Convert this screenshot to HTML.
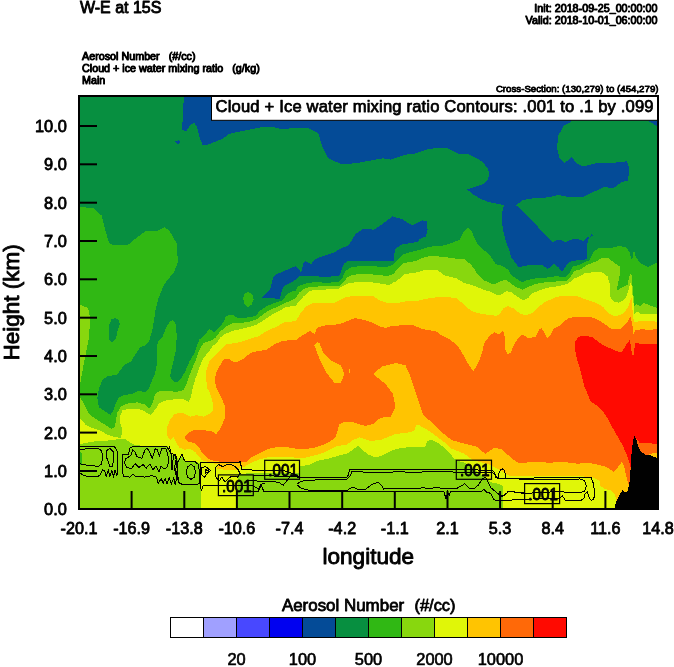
<!DOCTYPE html>
<html><head><meta charset="utf-8"><title>W-E at 15S</title>
<style>
html,body{margin:0;padding:0;background:#fff;}
body{width:674px;height:667px;overflow:hidden;}
svg{display:block;opacity:0.999;will-change:transform;font-family:"Liberation Sans",sans-serif;fill:#000;}
svg text{fill:#000;}
</style></head><body>
<svg width="674" height="667" viewBox="0 0 674 667">
<rect x="79" y="96" width="579" height="414" fill="#078f40"/>
<polygon points="184.0,96.0 183.0,110.4 182.2,130.2 186.2,131.0 190.7,124.8 194.3,123.0 197.0,126.6 199.7,137.4 202.4,144.6 206.0,145.5 213.2,142.4 222.2,139.2 229.4,133.8 241.9,131.1 250.9,129.3 263.5,126.9 272.5,126.9 281.5,129.3 290.0,128.4 308.3,128.0 318.3,133.0 322.0,146.0 328.3,158.3 342.0,164.5 358.2,162.8 383.0,158.3 390.6,159.6 405.5,154.6 414.0,153.8 429.0,148.8 440.0,148.0 447.2,148.0 454.4,151.6 459.8,154.3 468.8,154.3 476.0,157.9 483.2,162.4 487.7,168.7 489.5,174.1 487.7,179.5 483.2,184.0 476.0,186.7 467.0,189.4 472.4,193.9 479.6,198.4 488.6,202.0 497.6,203.8 503.9,205.2 502.0,212.7 502.0,223.5 503.9,234.3 506.6,243.3 509.3,250.0 510.8,256.5 515.0,262.5 518.9,267.3 527.0,265.5 536.0,264.6 543.2,265.5 547.7,269.1 554.0,263.7 558.5,267.3 562.0,271.8 567.4,263.7 572.0,261.0 587.2,259.2 587.2,244.0 589.0,237.7 591.7,234.1 593.5,235.9 591.0,236.5 588.1,236.5 583.7,241.3 579.2,239.5 573.8,238.6 565.7,242.2 562.0,240.4 557.6,239.5 552.2,242.2 546.8,236.8 539.6,229.6 536.0,224.2 530.6,218.8 523.4,211.6 516.2,205.3 522.7,200.1 533.5,198.3 547.9,197.4 558.3,195.0 568.3,197.0 583.3,197.0 593.2,192.0 604.5,187.0 613.2,188.2 621.9,182.0 628.0,180.7 629.4,168.3 626.9,161.3 613.2,162.8 598.2,162.8 583.3,166.5 577.0,163.3 571.3,157.0 564.6,163.3 559.6,158.3 557.0,148.3 558.3,135.9 563.3,126.0 570.8,122.2 571.0,96.0" fill="#044b97" shape-rendering="crispEdges"/>
<polygon points="648.0,121.0 658.0,126.5 658.0,121.0" fill="#044b97" shape-rendering="crispEdges"/>
<polygon points="175.5,141.5 179.0,140.0 180.0,142.5 177.0,144.5" fill="#044b97" shape-rendering="crispEdges"/>
<polygon points="262.0,298.0 266.5,292.7 270.2,289.0 271.7,283.0 273.5,277.5 275.4,274.7 285.2,270.5 295.1,266.3 296.0,266.5 299.0,269.5 301.2,272.5 303.5,262.7 305.7,261.2 311.0,264.2 315.5,259.0 323.0,256.0 335.0,252.2 338.0,250.0 348.7,245.1 355.7,233.8 362.8,229.0 374.0,229.6 382.5,224.0 392.4,216.4 402.2,219.2 412.1,225.4 422.0,220.3 427.0,221.1 427.6,230.0 425.6,236.5 419.7,238.9 418.5,241.5 411.0,243.0 402.0,244.5 396.0,248.2 394.7,251.4 393.8,260.6 380.0,260.5 363.5,260.5 347.7,261.2 344.0,263.5 341.7,269.5 339.5,275.5 326.0,277.0 314.0,276.2 299.0,276.2 296.0,279.5 289.0,283.7 283.7,286.0 281.5,292.0 280.0,298.7" fill="#044b97" shape-rendering="crispEdges"/>
<polygon points="79.0,207.0 93.0,208.0 101.7,215.6 105.4,230.6 109.0,243.0 114.0,245.5 128.0,244.8 137.8,236.8 145.3,231.3 157.8,230.6 164.7,226.9 170.0,231.8 176.5,243.0 178.0,262.0 174.0,272.0 164.0,284.4 159.0,296.9 158.0,300.0 155.7,309.0 154.2,319.5 152.0,331.5 149.0,341.2 146.0,345.0 140.0,347.2 136.2,353.2 131.0,361.5 124.2,365.2 119.0,372.0 116.0,375.0 110.0,375.7 106.7,376.7 102.5,380.0 98.8,388.9 97.3,397.8 98.8,407.4 104.7,411.2 110.6,414.9 112.9,411.2 115.1,405.2 118.8,397.8 123.5,395.2 132.5,393.7 138.5,390.7 144.5,392.2 148.2,390.0 150.5,384.0 155.0,373.5 157.2,363.0 157.2,345.0 158.7,340.5 162.5,336.7 166.2,327.7 170.0,321.0 173.0,320.0 176.0,324.7 176.7,336.0 176.0,349.5 173.0,363.0 170.0,375.7 172.2,380.2 176.0,382.5 180.5,379.5 185.0,372.0 189.5,361.5 194.0,354.0 196.5,347.0 199.5,339.5 205.0,335.0 209.5,328.7 214.0,332.5 220.0,326.5 223.7,322.0 226.0,316.0 232.0,314.5 237.2,317.5 247.0,317.5 256.0,316.0 259.0,311.5 266.5,306.2 274.0,303.2 283.0,300.2 286.0,295.0 290.5,292.0 296.0,290.5 298.2,286.0 305.0,283.7 314.0,282.2 326.0,282.7 338.0,282.2 342.5,277.7 345.5,271.0 351.5,267.2 363.5,265.7 377.0,266.5 386.0,267.2 392.0,265.0 396.0,261.7 399.0,258.0 403.5,254.2 411.0,252.0 420.0,249.7 429.0,246.7 441.0,246.0 450.0,243.7 459.8,239.7 463.4,232.5 467.9,227.1 471.5,230.7 475.1,239.7 477.7,244.5 484.5,250.5 490.5,256.5 496.0,264.2 502.0,265.7 508.0,269.5 511.0,274.7 517.0,279.2 522.2,282.2 527.5,280.0 535.0,278.5 545.5,277.7 556.0,276.2 565.0,277.0 569.5,272.5 572.5,266.5 578.5,265.0 583.6,262.5 589.9,260.0 593.0,252.4 598.7,248.0 611.3,248.0 620.0,245.9 625.7,247.4 629.5,251.8 632.0,261.3 633.7,251.2 634.2,250.6 635.8,257.5 641.5,263.8 647.8,266.9 651.6,265.0 658.0,261.9 658.0,509.0 79.0,509.0" fill="#30b814" shape-rendering="crispEdges"/>
<polygon points="247.7,292.0 252.2,294.2 253.7,299.5 251.5,304.7 247.7,307.7 244.0,304.0 243.2,298.0 244.7,293.5" fill="#30b814" shape-rendering="crispEdges"/>
<polygon points="111.5,319.5 115.2,318.0 119.0,320.2 119.7,324.0 117.5,331.5 116.0,338.2 112.2,342.7 109.5,340.5 108.8,333.0 109.5,324.0" fill="#078f40" shape-rendering="crispEdges"/>
<polygon points="79.0,305.6 80.5,305.0 88.0,308.0 90.0,316.8 89.2,336.8 84.2,361.7 80.5,381.6 79.0,385.0" fill="#88d70e" shape-rendering="crispEdges"/>
<polygon points="79.0,395.6 83.9,403.7 89.1,414.1 97.3,420.0 104.7,424.5 111.4,429.0 114.4,427.5 115.8,421.5 117.3,412.6 121.0,406.7 127.0,403.7 137.3,402.3 144.8,404.5 149.2,408.2 152.2,404.5 153.5,400.0 155.0,394.5 159.5,390.7 170.0,390.7 176.0,392.2 183.5,390.0 186.5,384.0 189.5,375.0 193.2,366.0 196.0,359.5 199.0,350.5 203.5,343.0 211.0,340.7 215.5,337.7 220.0,331.7 226.0,326.5 232.0,323.5 247.0,322.3 256.0,319.7 262.0,315.2 269.5,310.0 277.0,307.0 286.0,302.5 292.0,300.2 296.0,298.0 299.0,292.7 305.0,288.2 311.0,286.7 326.0,286.3 339.5,285.7 344.0,281.5 347.7,277.0 353.0,274.7 363.5,274.0 377.0,274.7 387.5,276.2 393.5,274.0 396.0,270.7 399.0,267.0 403.5,263.2 415.5,261.0 424.5,257.2 432.0,255.7 445.5,257.2 456.0,258.7 465.0,259.5 471.0,264.7 474.0,268.5 477.7,274.5 484.5,280.5 490.5,283.5 496.0,283.7 502.0,280.7 506.5,280.0 511.0,283.7 517.0,287.5 523.0,289.7 529.0,286.7 536.5,283.7 545.5,282.2 556.0,281.5 566.5,280.7 571.0,276.2 574.0,271.0 580.0,269.5 586.0,265.5 594.9,261.9 602.4,258.0 608.7,258.5 613.8,262.5 619.5,266.3 619.5,276.4 616.3,291.5 620.0,288.3 627.6,284.6 629.9,273.9 631.4,273.2 632.0,281.4 634.0,300.3 634.1,306.0 636.6,304.1 640.2,306.0 643.9,302.9 650.1,305.4 658.0,308.4 658.0,509.0 79.0,509.0" fill="#88d70e" shape-rendering="crispEdges"/>
<polygon points="79.0,451.5 82.0,453.0 82.5,458.0 81.5,465.0 79.0,466.0" fill="#30b814" shape-rendering="crispEdges"/>
<polygon points="79.0,417.1 85.4,424.5 92.8,428.2 100.3,430.4 107.7,434.9 115.1,437.1 121.0,437.9 122.5,430.4 120.3,423.0 120.3,415.6 122.5,410.4 128.4,408.9 137.3,408.9 143.3,410.4 147.8,413.4 150.7,414.9 155.2,409.7 158.9,403.7 164.0,400.8 173.0,399.5 182.5,398.7 188.5,401.7 190.7,398.0 192.3,389.5 195.3,379.0 200.0,366.0 203.0,358.5 207.5,353.2 210.0,350.2 212.5,346.0 217.0,343.0 220.0,337.7 225.2,334.0 232.0,331.0 245.5,328.0 256.0,325.0 263.5,320.5 271.0,315.2 278.5,311.5 284.5,307.7 292.0,306.2 295.0,306.0 297.0,304.0 298.2,302.5 303.5,296.5 309.5,291.2 315.5,289.7 338.0,289.3 342.5,286.0 348.5,283.3 359.0,281.8 371.0,282.2 381.5,283.7 389.0,285.2 393.5,282.2 396.0,281.5 399.0,279.0 403.5,274.5 411.0,273.0 418.5,272.2 424.5,270.0 438.0,270.4 444.0,275.2 456.0,278.2 463.5,282.7 474.0,285.7 483.0,289.5 490.5,291.7 496.0,294.5 500.5,295.0 506.5,291.2 511.0,292.0 517.0,296.5 523.0,300.2 528.2,298.0 532.0,293.5 541.0,289.7 548.5,287.5 559.0,286.0 568.0,283.7 574.0,278.5 581.5,275.5 584.8,273.2 594.9,272.0 603.0,272.6 607.5,276.4 610.0,285.2 610.0,296.5 613.8,301.6 618.8,302.8 625.0,299.0 628.3,291.5 630.2,282.7 631.4,284.0 632.7,296.5 634.0,306.6 634.1,314.0 637.8,311.5 640.2,314.0 658.0,314.0 658.0,509.0 503.5,509.0 503.3,486.0 498.8,483.8 491.4,482.3 487.0,479.3 482.5,475.6 470.0,466.0 463.9,462.3 457.2,460.8 453.6,458.0 450.0,453.6 444.6,448.2 439.2,443.7 432.0,439.7 427.5,441.0 424.8,447.3 406.8,447.3 396.0,449.0 388.0,452.3 380.6,456.3 374.7,457.0 368.8,454.8 362.8,450.4 358.4,445.5 353.9,448.9 348.0,453.4 341.1,454.8 329.2,458.5 317.3,460.8 309.9,464.5 299.5,466.7 299.5,473.0 264.7,473.0 246.0,473.5 237.7,474.0 237.7,509.0 200.6,509.0 200.9,484.5 199.9,463.7 196.2,461.5 187.3,462.3 184.7,460.2 182.5,455.5 179.5,459.5 175.0,456.5 170.5,453.0 167.5,446.5 144.8,446.0 134.4,445.0 130.0,442.5 125.5,439.3 121.0,438.6 112.1,440.1 104.7,440.8 92.8,441.6 85.4,443.0 79.0,444.5" fill="#e0f608" shape-rendering="crispEdges"/>
<polygon points="166.7,435.5 166.7,428.0 170.5,419.0 175.0,413.7 182.5,413.0 190.0,416.7 196.0,415.2 203.5,416.7 209.5,413.7 213.2,410.0 213.2,404.0 211.0,396.5 210.0,393.0 207.5,388.5 206.0,378.0 206.5,370.0 209.5,361.0 215.5,355.0 221.5,349.0 226.0,344.5 239.5,342.2 248.5,339.2 259.0,336.2 266.5,331.0 277.0,326.5 283.0,322.7 296.0,321.0 300.5,313.0 306.5,306.2 312.5,303.2 323.0,302.5 335.0,302.5 341.0,299.5 347.0,296.8 359.0,295.7 374.0,296.2 378.5,300.2 386.0,302.5 396.0,303.2 405.0,301.5 418.5,300.7 427.5,298.5 438.0,297.0 456.0,297.7 460.5,301.5 466.5,307.5 474.0,312.0 483.0,314.2 496.0,315.8 499.0,314.5 503.5,308.5 508.0,306.2 514.0,308.5 520.0,313.7 526.0,315.2 532.0,313.0 538.0,307.0 545.5,301.7 556.0,297.2 563.5,295.7 577.0,296.2 586.0,299.5 596.0,302.7 603.4,307.2 608.3,313.4 614.4,316.4 623.0,314.0 628.0,307.2 630.4,299.8 631.6,297.4 632.9,314.6 634.1,322.6 639.0,321.3 648.9,320.7 658.0,322.0 658.0,509.0 615.0,509.0 616.2,500.0 614.8,494.5 610.7,490.3 605.2,489.0 600.3,486.2 599.7,480.7 592.0,477.1 583.1,476.4 559.3,476.4 529.7,475.6 508.9,475.6 501.2,471.0 491.3,465.3 472.6,459.8 463.9,453.6 451.4,448.6 446.4,443.7 439.2,438.3 432.0,432.9 424.8,428.4 418.5,424.8 415.8,425.7 414.0,431.0 406.8,432.9 396.0,433.8 380.6,439.9 370.6,441.0 359.4,437.4 353.0,440.0 347.0,444.5 338.1,446.0 336.0,446.5 329.0,450.2 320.0,454.0 311.0,456.2 302.0,458.5 296.0,457.7 285.5,456.7 273.5,456.7 266.0,457.7 260.0,459.2 254.0,461.5 248.0,464.5 243.7,467.0 240.7,466.0 238.0,470.0 228.0,470.5 217.0,468.5 218.4,464.5 209.5,462.3 202.0,460.2 199.0,456.5 195.2,452.0 190.0,449.0 184.0,449.7 179.5,447.5 176.5,443.0 173.5,437.0 170.5,440.0" fill="#ffc400" shape-rendering="crispEdges"/>
<polygon points="184.7,437.7 187.0,434.0 194.5,429.5 203.5,430.2 211.0,431.0 216.2,434.0 220.0,429.5 224.5,419.0 225.2,407.0 221.5,398.0 216.2,387.5 214.7,380.0 216.2,373.0 220.0,365.5 223.7,359.5 228.2,358.7 235.0,362.5 242.5,359.5 247.7,355.0 253.0,352.0 266.5,349.7 274.0,344.5 283.0,340.7 296.0,340.0 302.0,335.5 310.2,331.0 314.7,334.0 317.0,328.0 323.0,325.7 339.5,324.2 347.0,321.2 354.5,318.2 360.5,319.0 371.0,322.0 380.0,326.5 386.0,328.0 392.0,325.7 396.0,326.0 402.0,325.0 414.0,325.5 423.0,329.2 436.5,331.5 440.0,334.4 449.0,338.9 458.0,346.0 463.4,355.0 468.8,365.0 473.3,371.3 477.8,364.0 482.3,352.4 484.0,343.4 489.5,336.2 494.0,332.2 499.4,334.4 503.0,330.8 504.7,336.2 504.7,348.8 507.4,354.2 511.0,352.4 513.7,345.2 518.2,338.0 522.7,334.4 528.1,338.0 535.3,337.1 538.9,329.9 541.6,328.1 544.3,332.6 547.0,338.0 550.6,335.3 553.3,329.0 560.0,325.5 568.0,318.2 577.0,316.7 589.0,316.7 596.0,318.7 603.4,323.2 612.0,329.3 620.6,329.3 626.7,323.2 630.4,316.4 632.3,324.4 633.5,334.2 635.3,329.9 642.7,329.3 650.1,329.9 658.0,328.7 658.0,452.7 650.0,453.8 645.0,458.0 630.0,487.0 627.9,482.1 626.1,475.2 623.8,465.5 621.7,462.1 617.6,467.6 613.4,471.7 606.6,466.9 598.3,464.8 589.0,463.0 577.2,463.7 566.8,462.3 559.3,461.5 550.4,463.0 538.6,461.5 529.7,462.3 518.7,463.0 513.7,460.0 507.7,454.8 501.8,449.6 495.1,447.4 490.0,450.4 485.5,454.1 476.6,446.7 464.7,443.7 451.4,440.0 439.0,430.0 429.0,420.0 422.7,414.0 417.7,399.0 414.0,387.9 410.5,376.7 405.5,365.4 395.5,363.0 381.8,366.7 373.0,374.0 385.6,384.0 393.0,394.0 395.5,406.6 390.6,416.5 380.6,417.8 373.0,424.0 365.6,426.0 353.2,422.4 345.7,421.5 339.5,424.0 337.0,432.4 336.0,436.0 333.5,439.0 329.0,442.0 323.0,445.0 314.0,447.7 303.5,449.5 296.0,448.7 285.5,446.8 276.5,447.2 269.0,448.7 263.0,451.7 257.0,454.7 251.0,457.7 245.5,462.5 241.0,461.7 232.0,461.7 220.0,461.7 211.0,460.2 206.5,457.2 202.7,453.5 199.0,447.5 194.5,443.0 187.7,441.5" fill="#ff6908" shape-rendering="crispEdges"/>
<polygon points="317.0,341.8 314.5,345.5 319.5,359.2 325.8,371.7 334.5,383.0 340.7,383.0 344.5,374.0 340.7,365.4 330.7,360.5 323.3,353.0 319.5,343.0" fill="#ffc400" shape-rendering="crispEdges"/>
<polygon points="348.5,369.0 349.8,369.0 349.8,373.0 348.5,373.0" fill="#ffc400" shape-rendering="crispEdges"/>
<polygon points="575.5,341.5 578.5,337.0 583.0,335.5 592.0,337.0 596.0,340.0 598.2,341.8 604.6,345.9 614.4,350.2 621.2,352.7 626.7,344.1 629.8,339.8 631.6,351.5 633.2,357.0 635.3,342.9 642.7,344.1 648.9,343.5 658.0,344.1 658.0,444.1 645.2,442.8 639.7,442.8 636.9,439.3 634.0,436.0 631.0,470.0 630.0,464.1 627.2,455.9 623.1,446.2 617.6,436.6 612.1,426.9 605.7,415.0 599.5,407.5 590.7,401.6 584.5,386.6 580.8,371.7 577.0,359.2 574.5,346.7" fill="#ff0a00" shape-rendering="crispEdges"/>
<polygon points="613.8,510.0 616.9,500.0 619.7,494.5 622.4,490.3 625.2,492.4 627.2,491.7 629.3,484.8 630.7,468.3 631.4,454.5 632.8,442.1 634.4,435.9 636.2,439.3 638.3,446.2 641.0,451.7 645.2,454.5 650.7,455.2 654.8,457.2 658.0,457.9 658.0,510.0" fill="#000" shape-rendering="crispEdges"/>
<polyline points="79.0,446.7 114.4,446.7 116.9,450.4 118.0,459.3 117.8,469.7 116.9,475.6 115.0,470.4 113.6,476.4 111.8,470.4 109.9,476.4 108.4,470.4 106.2,476.4 104.7,471.2 102.5,469.7 100.3,474.9 97.3,476.8 86.9,476.4 82.5,474.9 79.0,471.9" fill="none" stroke="#000" stroke-width="1" shape-rendering="crispEdges"/>
<polyline points="79.0,449.2 98.8,448.6 101.7,451.1 102.5,456.3 101.7,463.7 98.8,466.4 86.9,465.2 79.0,463.7" fill="none" stroke="#000" stroke-width="1" shape-rendering="crispEdges"/>
<polygon points="109.9,448.2 113.6,451.9 113.9,459.3 112.1,466.4 110.0,467.0 108.4,462.3 106.2,456.3 107.0,450.4" fill="none" stroke="#000" stroke-width="1" shape-rendering="crispEdges"/>
<polygon points="122.5,454.8 128.4,454.1 130.0,448.2 132.9,446.7 167.0,446.7 170.7,453.4 175.9,454.8 176.7,460.8 175.9,469.7 176.7,478.6 175.2,484.5 173.7,477.8 171.5,483.8 169.2,477.8 167.0,483.8 165.2,478.3 163.3,483.0 161.1,478.6 158.1,483.8 156.6,477.1 152.2,475.6 144.8,477.1 135.9,476.4 132.9,474.4 130.0,477.1 124.0,476.4 122.2,472.6" fill="none" stroke="#000" stroke-width="1" shape-rendering="crispEdges"/>
<polygon points="125.2,459.3 130.7,455.6 132.9,449.6 135.1,451.9 136.6,456.3 141.8,458.5 144.8,450.4 147.0,448.2 149.2,451.1 152.2,458.5 155.2,448.9 157.4,449.6 159.3,456.3 161.8,448.9 165.5,448.2 167.8,453.4 168.5,462.3 167.0,467.4 164.0,468.9 161.1,466.0 158.9,471.9 155.9,466.0 152.9,469.7 150.0,463.7 146.2,468.2 143.3,464.5 138.8,467.4 135.1,463.7 131.4,468.9 127.0,467.4 124.7,463.7" fill="none" stroke="#000" stroke-width="1" shape-rendering="crispEdges"/>
<polyline points="169.5,446.0 171.0,453.4 172.0,470.0 173.5,455.0 174.7,454.8 176.2,459.3 174.5,468.0 177.0,480.0 178.0,462.0" fill="none" stroke="#000" stroke-width="1" shape-rendering="crispEdges"/>
<polygon points="177.6,462.3 182.1,454.1 183.6,459.3 185.8,461.5 195.4,462.0 198.4,464.5 199.5,472.6 199.9,483.0 196.9,484.5 182.8,484.5 179.1,483.0 177.6,474.1" fill="none" stroke="#000" stroke-width="1" shape-rendering="crispEdges"/>
<polygon points="191.0,464.5 194.5,467.0 195.5,472.0 194.5,477.0 191.0,479.3 187.5,477.0 186.5,472.0 187.5,467.0" fill="none" stroke="#000" stroke-width="1" shape-rendering="crispEdges"/>
<polyline points="201.4,491.2 200.3,484.5 200.6,462.3 240.7,462.0 241.4,469.7 264.7,470.4" fill="none" stroke="#000" stroke-width="1" shape-rendering="crispEdges"/>
<polyline points="201.4,491.2 202.9,486.0 218.4,485.3" fill="none" stroke="#000" stroke-width="1" shape-rendering="crispEdges"/>
<polyline points="253.3,486.0 258.5,489.0 260.7,484.5 264.7,483.0" fill="none" stroke="#000" stroke-width="1" shape-rendering="crispEdges"/>
<polygon points="201.4,467.4 205.8,466.7 210.3,470.4 204.3,477.1 201.4,474.1" fill="none" stroke="#000" stroke-width="1" shape-rendering="crispEdges"/>
<polygon points="205.8,469.7 208.8,471.2 205.8,473.4" fill="none" stroke="#000" stroke-width="1" shape-rendering="crispEdges"/>
<polygon points="215.5,467.4 218.4,464.5 222.9,466.7 227.3,464.5 233.3,465.2 237.7,468.9 240.0,473.4 237.7,477.1 232.0,476.0 228.0,479.0 225.0,482.3 222.0,477.0 219.2,480.8 216.2,477.8 215.2,471.9" fill="none" stroke="#000" stroke-width="1" shape-rendering="crispEdges"/>
<polyline points="253.3,475.6 264.7,475.6" fill="none" stroke="#000" stroke-width="1" shape-rendering="crispEdges"/>
<polyline points="299.5,477.1 347.0,477.1 348.5,474.9 349.5,469.4 456.2,469.4" fill="none" stroke="#000" stroke-width="1" shape-rendering="crispEdges"/>
<polyline points="347.0,478.6 350.7,475.6 351.5,471.9 358.4,471.5 371.7,472.9 382.1,472.9 399.9,471.5 407.3,472.3 448.0,471.5 456.2,472.3" fill="none" stroke="#000" stroke-width="1" shape-rendering="crispEdges"/>
<polyline points="246.0,480.8 266.9,481.2 278.8,482.3 283.2,485.3 286.2,481.5 289.9,477.0" fill="none" stroke="#000" stroke-width="1" shape-rendering="crispEdges"/>
<polyline points="296.6,484.5 301.0,481.2 317.3,479.8 347.0,479.8" fill="none" stroke="#000" stroke-width="1" shape-rendering="crispEdges"/>
<polyline points="296.6,484.5 301.0,488.2 308.4,490.1 347.0,490.4 350.7,488.2 353.0,487.2 356.9,489.0 365.8,489.0 371.7,484.5 378.4,482.3 381.4,485.3 383.6,489.0 392.5,488.2 411.8,489.0 419.2,488.7 423.7,487.2 426.6,488.7 437.0,487.5 445.4,489.0 457.3,488.2 464.7,483.8 469.2,488.2 473.6,489.0 478.1,485.3 482.5,478.6 485.5,477.1 487.7,481.5 490.7,487.5 495.1,491.2 500.3,495.6 504.8,495.6 507.7,491.9 512.2,491.2 518.1,492.7 524.5,491.9" fill="none" stroke="#000" stroke-width="1" shape-rendering="crispEdges"/>
<polyline points="246.0,491.9 258.0,491.9 260.2,487.5 261.7,486.0 263.9,491.9 443.9,491.9 446.2,499.3 447.6,491.9 449.1,495.6 450.6,491.9 481.0,491.9 484.0,489.0 486.2,491.9 490.7,493.4 493.6,499.3 497.3,500.8 524.5,499.3" fill="none" stroke="#000" stroke-width="1" shape-rendering="crispEdges"/>
<polyline points="497.7,478.2 506.1,478.2" fill="none" stroke="#000" stroke-width="1" shape-rendering="crispEdges"/>
<polyline points="491.4,470.4 494.0,471.6 495.9,476.0 497.7,478.2 498.9,473.4 500.4,469.8 502.5,468.9 504.5,470.7 505.4,475.2 506.1,478.2 507.4,478.3 552.0,477.8 583.1,477.4 591.2,477.8 593.2,483.0 594.7,491.9 593.8,499.3 591.2,500.5 589.0,497.1 587.5,491.9 585.3,493.4 583.8,498.6 580.9,500.5 565.3,500.1 562.3,495.6 559.6,498.0" fill="none" stroke="#000" stroke-width="1" shape-rendering="crispEdges"/>
<polyline points="491.4,472.3 494.4,473.4 495.9,477.8 498.8,477.8" fill="none" stroke="#000" stroke-width="1" shape-rendering="crispEdges"/>
<polyline points="517.8,478.9 529.7,479.8 552.0,479.3 569.7,479.8 580.1,478.9 584.6,480.8 586.5,486.0 584.6,491.2 580.1,492.7 565.3,492.2 559.6,491.5" fill="none" stroke="#000" stroke-width="1" shape-rendering="crispEdges"/>
<polyline points="524.5,493.4 517.8,492.7 508.9,491.2 504.5,494.9 501.5,497.1" fill="none" stroke="#000" stroke-width="1" shape-rendering="crispEdges"/>
<polyline points="438.0,469.4 456.2,469.4" fill="none" stroke="#000" stroke-width="1" shape-rendering="crispEdges"/>
<polyline points="264.7,470.4 285.0,471.0 295.0,474.5 299.5,477.1" fill="none" stroke="#000" stroke-width="1" shape-rendering="crispEdges"/>
<polyline points="264.7,475.6 299.5,477.1" fill="none" stroke="#000" stroke-width="1" shape-rendering="crispEdges"/>
<polyline points="456.2,469.4 491.4,470.4" fill="none" stroke="#000" stroke-width="1" shape-rendering="crispEdges"/>
<polyline points="456.2,472.3 491.4,472.3" fill="none" stroke="#000" stroke-width="1" shape-rendering="crispEdges"/>
<polyline points="524.5,493.4 559.6,491.5" fill="none" stroke="#000" stroke-width="1" shape-rendering="crispEdges"/>
<polyline points="524.5,499.3 559.6,498.0" fill="none" stroke="#000" stroke-width="1" shape-rendering="crispEdges"/>
<polyline points="218.4,485.3 253.3,486.0" fill="none" stroke="#000" stroke-width="1" shape-rendering="crispEdges"/>
<rect x="218.4" y="474.9" width="34.9" height="20.7" fill="none" stroke="#000" stroke-width="1.2"/>
<text x="236.9" y="491.9" font-size="16.5" text-anchor="middle" stroke="#000" stroke-width="0.85" stroke-linejoin="round" textLength="29.6" lengthAdjust="spacingAndGlyphs">.001</text>
<rect x="264.7" y="460.3" width="34.8" height="19.0" fill="none" stroke="#000" stroke-width="1.2"/>
<text x="283.1" y="475.6" font-size="16.5" text-anchor="middle" stroke="#000" stroke-width="0.85" stroke-linejoin="round" textLength="29.6" lengthAdjust="spacingAndGlyphs">.001</text>
<rect x="456.3" y="460.2" width="35.2" height="19.1" fill="none" stroke="#000" stroke-width="1.2"/>
<text x="474.9" y="475.6" font-size="16.5" text-anchor="middle" stroke="#000" stroke-width="0.85" stroke-linejoin="round" textLength="29.6" lengthAdjust="spacingAndGlyphs">.001</text>
<rect x="524.6" y="483.6" width="35.0" height="20.0" fill="none" stroke="#000" stroke-width="1.2"/>
<text x="543.1" y="499.9" font-size="16.5" text-anchor="middle" stroke="#000" stroke-width="0.85" stroke-linejoin="round" textLength="29.6" lengthAdjust="spacingAndGlyphs">.001</text>
<g stroke="#000" stroke-width="2"><line x1="131.6" y1="509" x2="131.6" y2="491"/><line x1="184.3" y1="509" x2="184.3" y2="491"/><line x1="236.9" y1="509" x2="236.9" y2="491"/><line x1="289.5" y1="509" x2="289.5" y2="491"/><line x1="342.2" y1="509" x2="342.2" y2="491"/><line x1="394.8" y1="509" x2="394.8" y2="491"/><line x1="447.5" y1="509" x2="447.5" y2="491"/><line x1="500.1" y1="509" x2="500.1" y2="491"/><line x1="552.7" y1="509" x2="552.7" y2="491"/><line x1="605.4" y1="509" x2="605.4" y2="491"/><line x1="79" y1="471.0" x2="97" y2="471.0"/><line x1="79" y1="432.6" x2="97" y2="432.6"/><line x1="79" y1="394.3" x2="97" y2="394.3"/><line x1="79" y1="356.0" x2="97" y2="356.0"/><line x1="79" y1="317.7" x2="97" y2="317.7"/><line x1="79" y1="279.3" x2="97" y2="279.3"/><line x1="79" y1="241.0" x2="97" y2="241.0"/><line x1="79" y1="202.7" x2="97" y2="202.7"/><line x1="79" y1="164.3" x2="97" y2="164.3"/><line x1="79" y1="126.0" x2="97" y2="126.0"/></g>
<rect x="211.5" y="96" width="446.5" height="24.3" fill="#fff" stroke="#000" stroke-width="1"/>
<text x="215.6" y="112.4" font-size="16.6" stroke="#000" stroke-width="0.75" stroke-linejoin="round" textLength="438" lengthAdjust="spacing">Cloud + Ice water mixing ratio Contours: .001 to .1 by .099</text>
<rect x="79" y="96" width="579" height="413" fill="none" stroke="#000" stroke-width="2"/>
<text x="79.0" y="533.8" font-size="16.2" text-anchor="middle" stroke="#000" stroke-width="0.8" stroke-linejoin="round">-20.1</text>
<text x="131.6" y="533.8" font-size="16.2" text-anchor="middle" stroke="#000" stroke-width="0.8" stroke-linejoin="round">-16.9</text>
<text x="184.3" y="533.8" font-size="16.2" text-anchor="middle" stroke="#000" stroke-width="0.8" stroke-linejoin="round">-13.8</text>
<text x="236.9" y="533.8" font-size="16.2" text-anchor="middle" stroke="#000" stroke-width="0.8" stroke-linejoin="round">-10.6</text>
<text x="289.5" y="533.8" font-size="16.2" text-anchor="middle" stroke="#000" stroke-width="0.8" stroke-linejoin="round">-7.4</text>
<text x="342.2" y="533.8" font-size="16.2" text-anchor="middle" stroke="#000" stroke-width="0.8" stroke-linejoin="round">-4.2</text>
<text x="394.8" y="533.8" font-size="16.2" text-anchor="middle" stroke="#000" stroke-width="0.8" stroke-linejoin="round">-1.1</text>
<text x="447.5" y="533.8" font-size="16.2" text-anchor="middle" stroke="#000" stroke-width="0.8" stroke-linejoin="round">2.1</text>
<text x="500.1" y="533.8" font-size="16.2" text-anchor="middle" stroke="#000" stroke-width="0.8" stroke-linejoin="round">5.3</text>
<text x="552.7" y="533.8" font-size="16.2" text-anchor="middle" stroke="#000" stroke-width="0.8" stroke-linejoin="round">8.4</text>
<text x="605.4" y="533.8" font-size="16.2" text-anchor="middle" stroke="#000" stroke-width="0.8" stroke-linejoin="round">11.6</text>
<text x="658.0" y="533.8" font-size="16.2" text-anchor="middle" stroke="#000" stroke-width="0.8" stroke-linejoin="round">14.8</text>
<text x="66.9" y="515.4" font-size="16.4" text-anchor="end" stroke="#000" stroke-width="0.8" stroke-linejoin="round">0.0</text>
<text x="66.9" y="477.1" font-size="16.4" text-anchor="end" stroke="#000" stroke-width="0.8" stroke-linejoin="round">1.0</text>
<text x="66.9" y="438.7" font-size="16.4" text-anchor="end" stroke="#000" stroke-width="0.8" stroke-linejoin="round">2.0</text>
<text x="66.9" y="400.4" font-size="16.4" text-anchor="end" stroke="#000" stroke-width="0.8" stroke-linejoin="round">3.0</text>
<text x="66.9" y="362.1" font-size="16.4" text-anchor="end" stroke="#000" stroke-width="0.8" stroke-linejoin="round">4.0</text>
<text x="66.9" y="323.8" font-size="16.4" text-anchor="end" stroke="#000" stroke-width="0.8" stroke-linejoin="round">5.0</text>
<text x="66.9" y="285.4" font-size="16.4" text-anchor="end" stroke="#000" stroke-width="0.8" stroke-linejoin="round">6.0</text>
<text x="66.9" y="247.1" font-size="16.4" text-anchor="end" stroke="#000" stroke-width="0.8" stroke-linejoin="round">7.0</text>
<text x="66.9" y="208.8" font-size="16.4" text-anchor="end" stroke="#000" stroke-width="0.8" stroke-linejoin="round">8.0</text>
<text x="66.9" y="170.4" font-size="16.4" text-anchor="end" stroke="#000" stroke-width="0.8" stroke-linejoin="round">9.0</text>
<text x="66.9" y="132.1" font-size="16.4" text-anchor="end" stroke="#000" stroke-width="0.8" stroke-linejoin="round">10.0</text>
<text x="368.3" y="563.8" font-size="22.6" text-anchor="middle" stroke="#000" stroke-width="0.9" stroke-linejoin="round">longitude</text>
<text transform="translate(19.1,302.3) rotate(-90)" font-size="22.5" text-anchor="middle" stroke="#000" stroke-width="0.9" stroke-linejoin="round">Height (km)</text>
<text x="79.9" y="12.7" font-size="16" stroke="#000" stroke-width="0.9" stroke-linejoin="round">W-E at 15S</text>
<g font-size="10.75" stroke="#000" stroke-width="0.95" stroke-linejoin="round"><text x="82" y="60.2" xml:space="preserve">Aerosol Number   (#/cc)</text><text x="82" y="72" xml:space="preserve">Cloud + ice water mixing ratio   (g/kg)</text><text x="82" y="84">Main</text><text x="657.5" y="12" text-anchor="end">Init: 2018-09-25_00:00:00</text><text x="657.5" y="24.3" text-anchor="end">Valid: 2018-10-01_06:00:00</text></g>
<text x="658.5" y="91.5" font-size="9.7" text-anchor="end" stroke="#000" stroke-width="0.8" stroke-linejoin="round">Cross-Section: (130,279) to (454,279)</text>
<rect x="170.5" y="617.5" width="33" height="20" fill="#ffffff" stroke="#000" stroke-width="1"/>
<rect x="203.5" y="617.5" width="33" height="20" fill="#a0a0ff" stroke="#000" stroke-width="1"/>
<rect x="236.5" y="617.5" width="33" height="20" fill="#4848ff" stroke="#000" stroke-width="1"/>
<rect x="269.5" y="617.5" width="33" height="20" fill="#0000f0" stroke="#000" stroke-width="1"/>
<rect x="302.5" y="617.5" width="33" height="20" fill="#044b97" stroke="#000" stroke-width="1"/>
<rect x="335.5" y="617.5" width="33" height="20" fill="#078f40" stroke="#000" stroke-width="1"/>
<rect x="368.5" y="617.5" width="33" height="20" fill="#30b814" stroke="#000" stroke-width="1"/>
<rect x="401.5" y="617.5" width="33" height="20" fill="#88d70e" stroke="#000" stroke-width="1"/>
<rect x="434.5" y="617.5" width="33" height="20" fill="#e0f608" stroke="#000" stroke-width="1"/>
<rect x="467.5" y="617.5" width="33" height="20" fill="#ffc400" stroke="#000" stroke-width="1"/>
<rect x="500.5" y="617.5" width="33" height="20" fill="#ff6908" stroke="#000" stroke-width="1"/>
<rect x="533.5" y="617.5" width="33" height="20" fill="#ff0a00" stroke="#000" stroke-width="1"/>
<text x="281.9" y="610.6" font-size="16.5" stroke="#000" stroke-width="0.8" stroke-linejoin="round" textLength="122.3" lengthAdjust="spacingAndGlyphs">Aerosol Number</text>
<text x="414.5" y="610.6" font-size="16.5" stroke="#000" stroke-width="0.8" stroke-linejoin="round" textLength="41" lengthAdjust="spacingAndGlyphs">(#/cc)</text>
<text x="236.5" y="665" font-size="16.4" text-anchor="middle" stroke="#000" stroke-width="0.65">20</text>
<text x="302.5" y="665" font-size="16.4" text-anchor="middle" stroke="#000" stroke-width="0.65">100</text>
<text x="368.5" y="665" font-size="16.4" text-anchor="middle" stroke="#000" stroke-width="0.65">500</text>
<text x="434.5" y="665" font-size="16.4" text-anchor="middle" stroke="#000" stroke-width="0.65">2000</text>
<text x="500.5" y="665" font-size="16.4" text-anchor="middle" stroke="#000" stroke-width="0.65">10000</text>
</svg>
</body></html>
